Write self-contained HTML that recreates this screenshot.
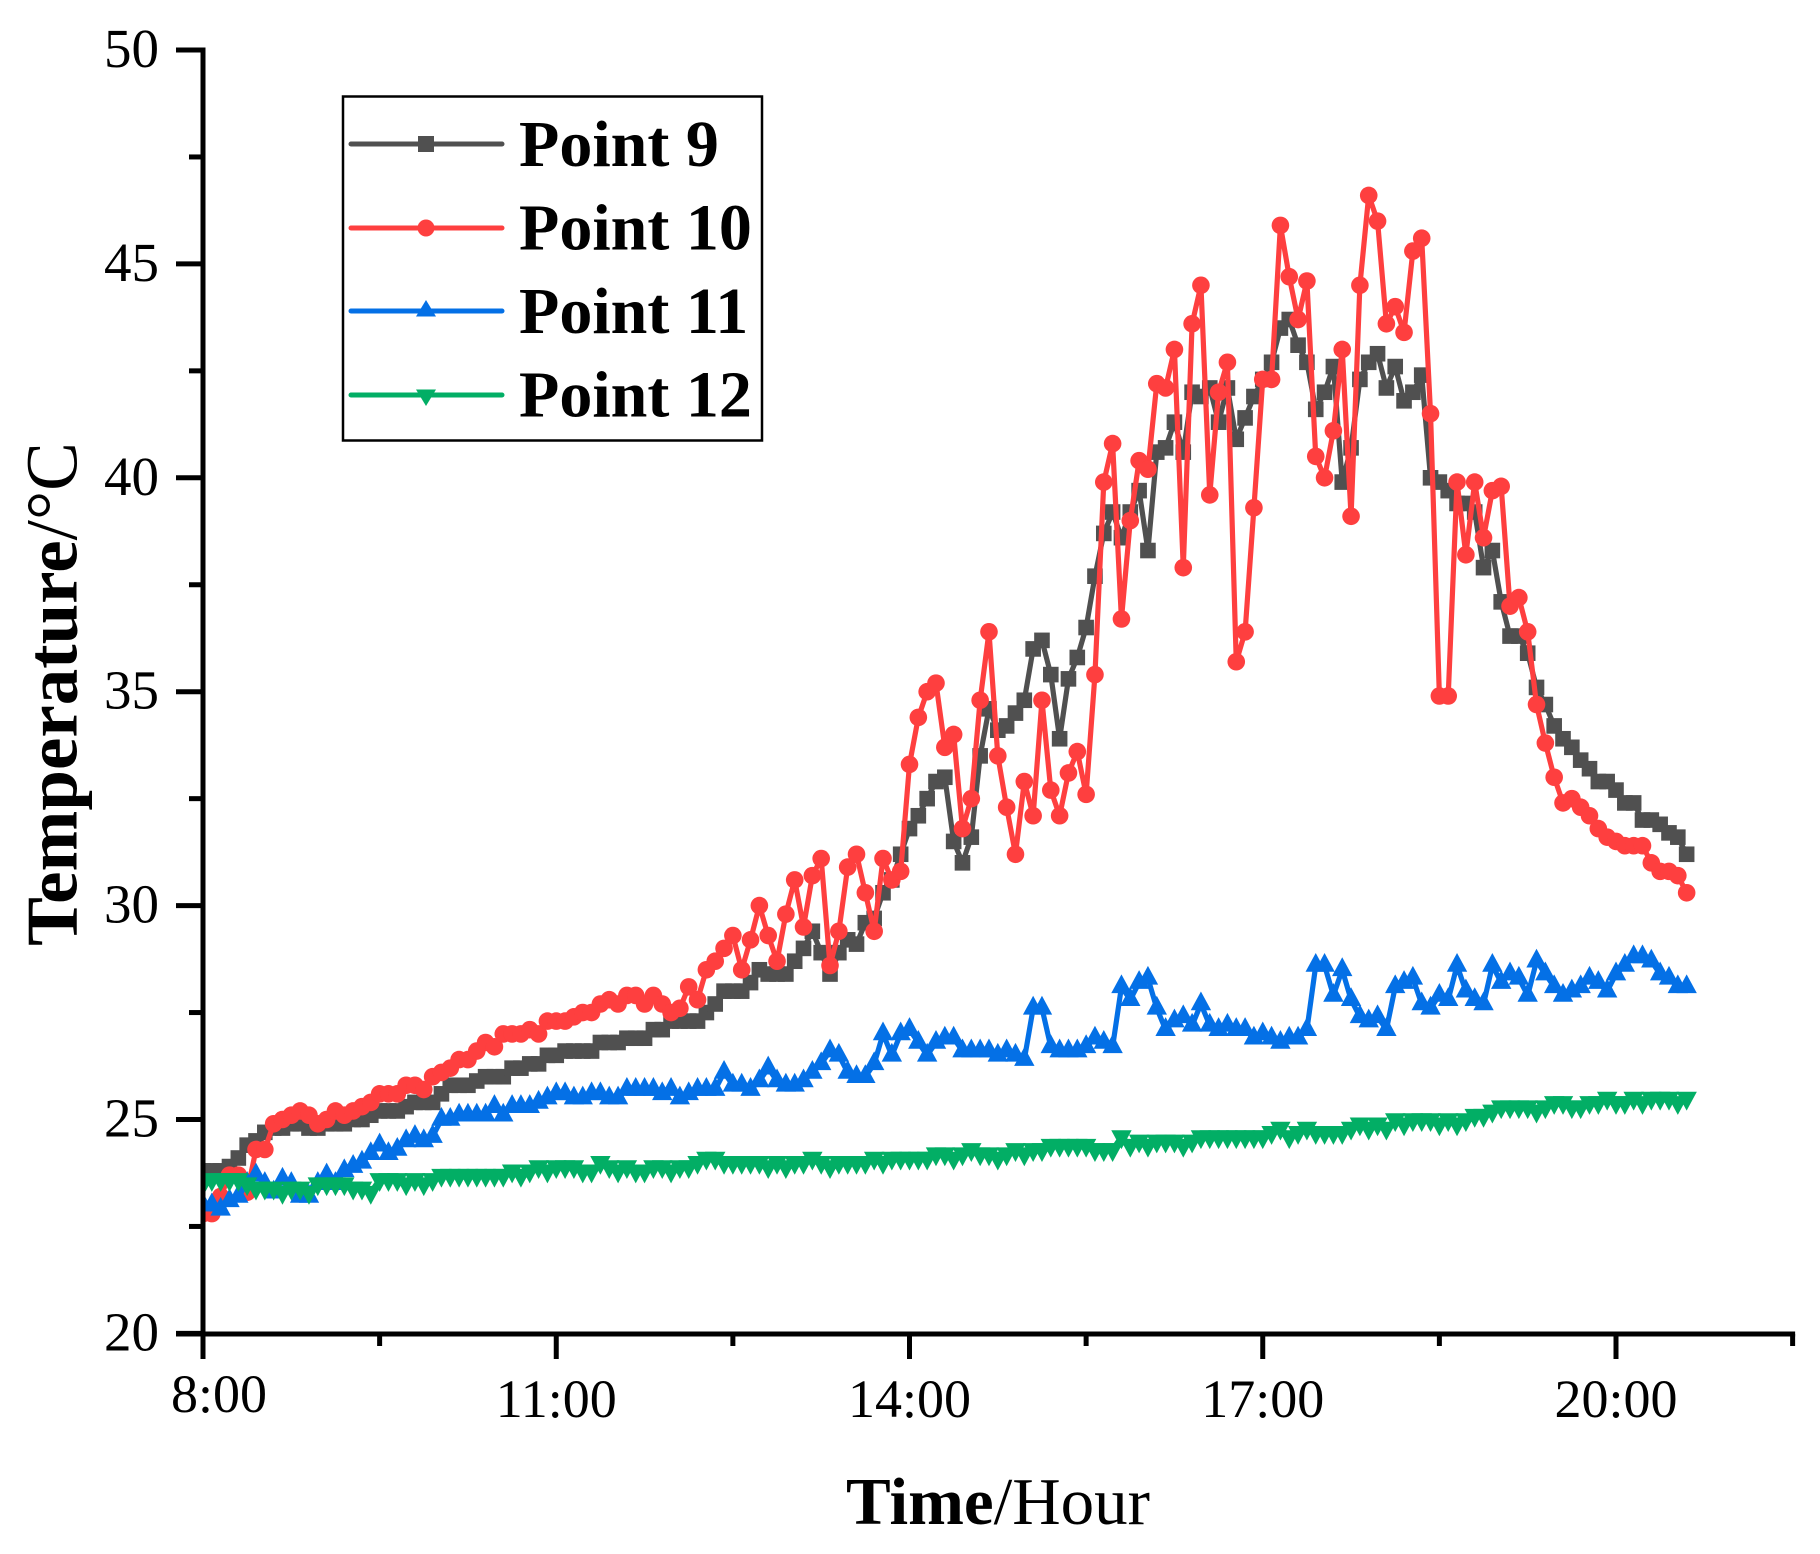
<!DOCTYPE html>
<html lang="en">
<head>
<meta charset="utf-8">
<title>Temperature over time, Points 9 to 12</title>
<style>
html,body{margin:0;padding:0;background:#fff;}
body{width:1820px;height:1554px;overflow:hidden;}
svg{display:block;}
text{font-family:"Liberation Serif",serif;fill:#000;}
.y-tick-text{font-size:55px;}
.x-tick-text{font-size:54px;}
.legend-label{font-size:66px;font-weight:bold;}
</style>
</head>
<body>
<svg id="chart" xmlns="http://www.w3.org/2000/svg" width="1820" height="1554" viewBox="0 0 1820 1554">
  <defs>
    <clipPath id="plot-clip"><rect x="203" y="0" width="1617" height="1334"></rect></clipPath>
  </defs>
  <g id="series-layer" clip-path="url(#plot-clip)"></g>
  <g id="axis-layer"></g>

  <text transform="translate(76.5,694) rotate(-90)" text-anchor="middle" font-size="73"><tspan font-weight="bold">Temperature</tspan><tspan>/°C</tspan></text>
  <text x="998" y="1524" text-anchor="middle" font-size="67"><tspan font-weight="bold">Time</tspan><tspan>/Hour</tspan></text>

  <g>
    <rect x="343" y="96.5" width="419" height="344" fill="#fff" stroke="#000" stroke-width="2.5"></rect>
    <g>
      <line x1="351" x2="502" y1="144" y2="144" stroke="#505050" stroke-width="5" stroke-linecap="round"></line>
      <rect x="418" y="136" width="16" height="16" fill="#505050"></rect>
      <text class="legend-label" x="519" y="166">Point 9</text>
    </g>
    <g>
      <line x1="351" x2="502" y1="228" y2="228" stroke="#fe3f3f" stroke-width="5" stroke-linecap="round"></line>
      <circle cx="426" cy="228" r="8.5" fill="#fe3f3f"></circle>
      <text class="legend-label" x="519" y="249.5">Point 10</text>
    </g>
    <g>
      <line x1="351" x2="502" y1="311" y2="311" stroke="#0470e6" stroke-width="5" stroke-linecap="round"></line>
      <polygon points="426,300 436,316.5 416,316.5" fill="#0470e6"></polygon>
      <text class="legend-label" x="519" y="333">Point 11</text>
    </g>
    <g>
      <line x1="351" x2="502" y1="395" y2="395" stroke="#02ae65" stroke-width="5" stroke-linecap="round"></line>
      <polygon points="426,406 436,389.5 416,389.5" fill="#02ae65"></polygon>
      <text class="legend-label" x="519" y="416.7">Point 12</text>
    </g>
  </g>
</svg>
<script>
// Chart data
const sampleStepHours = 0.075;
const startHour = 8;
const endHour = 21.5;
const yTickValues = [20, 25, 30, 35, 40, 45, 50];
const yMinorValues = [22.5, 27.5, 32.5, 37.5, 42.5, 47.5];
const xTickHours = [8, 11, 14, 17, 20];
const xTickLabels = ["8:00", "11:00", "14:00", "17:00", "20:00"];
const xMinorHours = [9.5, 12.5, 15.5, 18.5, 21.5];

const point9 = [
  23.8,23.8,23.8,23.9,24.1,24.4,24.5,24.7,24.8,24.8,
  24.9,24.9,24.8,24.8,24.9,24.9,24.9,25.0,25.0,25.1,
  25.2,25.2,25.2,25.3,25.4,25.4,25.4,25.6,25.8,25.8,
  25.8,25.9,26.0,26.0,26.0,26.2,26.2,26.3,26.3,26.5,
  26.5,26.6,26.6,26.6,26.6,26.8,26.8,26.8,26.9,26.9,
  26.9,27.1,27.1,27.3,27.3,27.3,27.3,27.5,27.7,28.0,
  28.0,28.0,28.2,28.5,28.4,28.4,28.4,28.7,29.0,29.4,
  28.9,28.4,28.9,29.2,29.1,29.6,29.7,30.3,30.6,31.2,
  31.8,32.1,32.5,32.9,33.0,31.5,31.0,31.6,33.5,34.6,
  34.1,34.2,34.5,34.8,36.0,36.2,35.4,33.9,35.3,35.8,
  36.5,37.7,38.7,39.2,38.6,39.2,39.7,38.3,40.6,40.7,
  41.3,40.6,42.0,41.9,42.1,41.3,42.1,40.9,41.4,41.9,
  42.3,42.7,43.5,43.7,43.1,42.7,41.6,42.0,42.6,39.9,
  40.7,42.3,42.7,42.9,42.1,42.6,41.8,42.0,42.4,40.0,
  39.9,39.7,39.4,39.4,39.2,37.9,38.3,37.1,36.3,36.3,
  35.9,35.1,34.7,34.2,33.9,33.7,33.4,33.2,32.9,32.9,
  32.7,32.4,32.4,32.0,32.0,31.9,31.7,31.6,31.2
];
const point10 = [
  22.8,22.8,23.2,23.7,23.7,23.3,24.3,24.3,24.9,25.0,
  25.1,25.2,25.1,24.9,25.0,25.2,25.1,25.2,25.3,25.4,
  25.6,25.6,25.6,25.8,25.8,25.7,26.0,26.1,26.2,26.4,
  26.4,26.6,26.8,26.7,27.0,27.0,27.0,27.1,27.0,27.3,
  27.3,27.3,27.4,27.5,27.5,27.7,27.8,27.7,27.9,27.9,
  27.7,27.9,27.7,27.5,27.6,28.1,27.8,28.5,28.7,29.0,
  29.3,28.5,29.2,30.0,29.3,28.7,29.8,30.6,29.5,30.7,
  31.1,28.6,29.4,30.9,31.2,30.3,29.4,31.1,30.6,30.8,
  33.3,34.4,35.0,35.2,33.7,34.0,31.8,32.5,34.8,36.4,
  33.5,32.3,31.2,32.9,32.1,34.8,32.7,32.1,33.1,33.6,
  32.6,35.4,39.9,40.8,36.7,39.0,40.4,40.2,42.2,42.1,
  43.0,37.9,43.6,44.5,39.6,42.0,42.7,35.7,36.4,39.3,
  42.3,42.3,45.9,44.7,43.7,44.6,40.5,40.0,41.1,43.0,
  39.1,44.5,46.6,46.0,43.6,44.0,43.4,45.3,45.6,41.5,
  34.9,34.9,39.9,38.2,39.9,38.6,39.7,39.8,37.0,37.2,
  36.4,34.7,33.8,33.0,32.4,32.5,32.3,32.1,31.8,31.6,
  31.5,31.4,31.4,31.4,31.0,30.8,30.8,30.7,30.3
];
const point11 = [
  23.0,23.0,22.9,23.1,23.2,23.5,23.7,23.5,23.3,23.6,
  23.5,23.2,23.2,23.5,23.7,23.5,23.8,23.9,24.0,24.2,
  24.4,24.2,24.3,24.5,24.6,24.5,24.6,25.0,25.0,25.1,
  25.1,25.1,25.1,25.3,25.1,25.3,25.3,25.3,25.4,25.5,
  25.6,25.6,25.5,25.5,25.6,25.6,25.5,25.5,25.7,25.7,
  25.7,25.7,25.6,25.7,25.5,25.6,25.7,25.7,25.7,26.1,
  25.8,25.8,25.7,25.9,26.2,25.9,25.8,25.8,25.9,26.1,
  26.3,26.6,26.5,26.1,26.0,26.0,26.3,27.0,26.5,27.0,
  27.1,26.8,26.5,26.8,26.9,26.9,26.6,26.6,26.6,26.6,
  26.5,26.6,26.5,26.4,27.6,27.6,26.7,26.6,26.6,26.6,
  26.7,26.9,26.8,26.7,28.1,27.8,28.2,28.3,27.6,27.1,
  27.3,27.4,27.2,27.7,27.2,27.1,27.2,27.1,27.1,26.9,
  27.0,26.9,26.8,26.9,26.9,27.1,28.6,28.6,27.9,28.5,
  27.8,27.4,27.3,27.4,27.1,28.1,28.2,28.3,27.7,27.6,
  27.9,27.8,28.6,28.0,27.8,27.7,28.6,28.2,28.4,28.3,
  27.9,28.7,28.4,28.1,27.9,28.0,28.1,28.3,28.2,28.0,
  28.4,28.6,28.8,28.8,28.7,28.4,28.3,28.1,28.1
];
const point12 = [
  23.5,23.6,23.6,23.6,23.6,23.5,23.4,23.4,23.4,23.3,
  23.4,23.4,23.3,23.5,23.5,23.5,23.5,23.4,23.4,23.3,
  23.6,23.6,23.6,23.5,23.6,23.5,23.6,23.7,23.7,23.7,
  23.7,23.7,23.7,23.7,23.7,23.8,23.7,23.8,23.9,23.8,
  23.9,23.9,23.9,23.8,23.8,24.0,23.9,23.8,23.9,23.8,
  23.8,23.9,23.9,23.8,23.9,23.9,24.0,24.1,24.1,24.0,
  24.0,24.0,24.0,24.0,23.9,24.0,23.9,24.0,24.0,24.1,
  24.0,23.9,24.0,24.0,24.0,24.0,24.1,24.0,24.1,24.1,
  24.1,24.1,24.1,24.2,24.2,24.1,24.2,24.3,24.2,24.2,
  24.1,24.2,24.3,24.2,24.3,24.3,24.4,24.4,24.4,24.4,
  24.4,24.3,24.3,24.3,24.6,24.4,24.5,24.4,24.5,24.5,
  24.5,24.4,24.5,24.6,24.6,24.6,24.6,24.6,24.6,24.6,
  24.6,24.7,24.8,24.6,24.7,24.8,24.7,24.7,24.7,24.7,
  24.8,24.9,24.8,24.9,24.8,25.0,24.9,25.0,25.0,25.0,
  24.9,25.0,24.9,25.0,25.1,25.1,25.2,25.3,25.3,25.3,
  25.3,25.2,25.3,25.4,25.4,25.3,25.3,25.4,25.4,25.5,
  25.4,25.4,25.5,25.4,25.5,25.5,25.5,25.4,25.5
];

const SVG_NS = "http://www.w3.org/2000/svg";
const seriesLayer = document.getElementById("series-layer");
const axisLayer = document.getElementById("axis-layer");

function xScale(hour) {
  return 203 + (hour - startHour) * 117.75;
}
function yScale(value) {
  return 50 + (50 - value) * 42.78;
}
function sampleHour(index) {
  return startHour + index * sampleStepHours;
}
function make(tag, attrs, parent) {
  const el = document.createElementNS(SVG_NS, tag);
  for (const key in attrs) el.setAttribute(key, attrs[key]);
  parent.appendChild(el);
  return el;
}

function drawLine(values, color, name) {
  const pts = values.map(function (v, i) {
    return xScale(sampleHour(i)).toFixed(2) + "," + yScale(v).toFixed(2);
  }).join(" ");
  const el = make("polyline", {points: pts, fill: "none", stroke: color, "stroke-width": 5.2, "stroke-linejoin": "round"}, seriesLayer);
  
  
}

function drawMarkers(values, color, name, shape) {
  const group = make("g", {fill: color}, seriesLayer);
  
  
  values.forEach(function (v, i) {
    const x = xScale(sampleHour(i));
    const y = yScale(v);
    let el;
    if (shape === "square") {
      el = make("rect", {x: x - 7.8, y: y - 7.8, width: 15.6, height: 15.6}, group);
    } else if (shape === "circle") {
      el = make("circle", {cx: x, cy: y, r: 8.8}, group);
    } else if (shape === "up") {
      el = make("polygon", {points: x + "," + (y - 12.5) + " " + (x + 10.2) + "," + (y + 6.3) + " " + (x - 10.2) + "," + (y + 6.3)}, group);
    } else {
      el = make("polygon", {points: x + "," + (y + 12.5) + " " + (x + 10.2) + "," + (y - 6.3) + " " + (x - 10.2) + "," + (y - 6.3)}, group);
    }
    
    
  });
}

function drawSeries(values, color, name, shape) {
  drawLine(values, color, name);
  drawMarkers(values, color, name, shape);
}

drawSeries(point9, "#505050", "point-9", "square");
drawSeries(point10, "#fe3f3f", "point-10", "circle");
drawSeries(point11, "#0470e6", "point-11", "up");
drawSeries(point12, "#02ae65", "point-12", "down");

// Axes
const ySpine = make("line", {x1: 203, x2: 203, y1: 47.5, y2: 1359, stroke: "#000", "stroke-width": 5}, axisLayer);


const xSpine = make("line", {x1: 176, x2: xScale(endHour) + 2.5, y1: 1334, y2: 1334, stroke: "#000", "stroke-width": 5}, axisLayer);



yTickValues.forEach(function (v) {
  const y = yScale(v);
  const tick = make("line", {x1: 176, x2: 203, y1: y, y2: y, stroke: "#000", "stroke-width": 5}, axisLayer);
  
  
  const label = make("text", {x: 159, y: y + 17, "text-anchor": "end", "class": "y-tick-text"}, axisLayer);
  label.textContent = String(v);
  
  
});
yMinorValues.forEach(function (v) {
  const y = yScale(v);
  const tick = make("line", {x1: 189, x2: 203, y1: y, y2: y, stroke: "#000", "stroke-width": 5}, axisLayer);
  
  
});
xTickHours.forEach(function (h, i) {
  const x = xScale(h);
  const tick = make("line", {x1: x, x2: x, y1: 1334, y2: 1359, stroke: "#000", "stroke-width": 5}, axisLayer);
  
  
  const isFirst = i === 0;
  const label = make("text", {x: isFirst ? x + 16 : x, y: isFirst ? 1412 : 1417, "text-anchor": "middle", "class": "x-tick-text"}, axisLayer);
  label.textContent = xTickLabels[i];
  
  
});
xMinorHours.forEach(function (h) {
  const x = xScale(h);
  const tick = make("line", {x1: x, x2: x, y1: 1334, y2: 1346, stroke: "#000", "stroke-width": 5}, axisLayer);
  
  
});
</script>
</body>
</html>
